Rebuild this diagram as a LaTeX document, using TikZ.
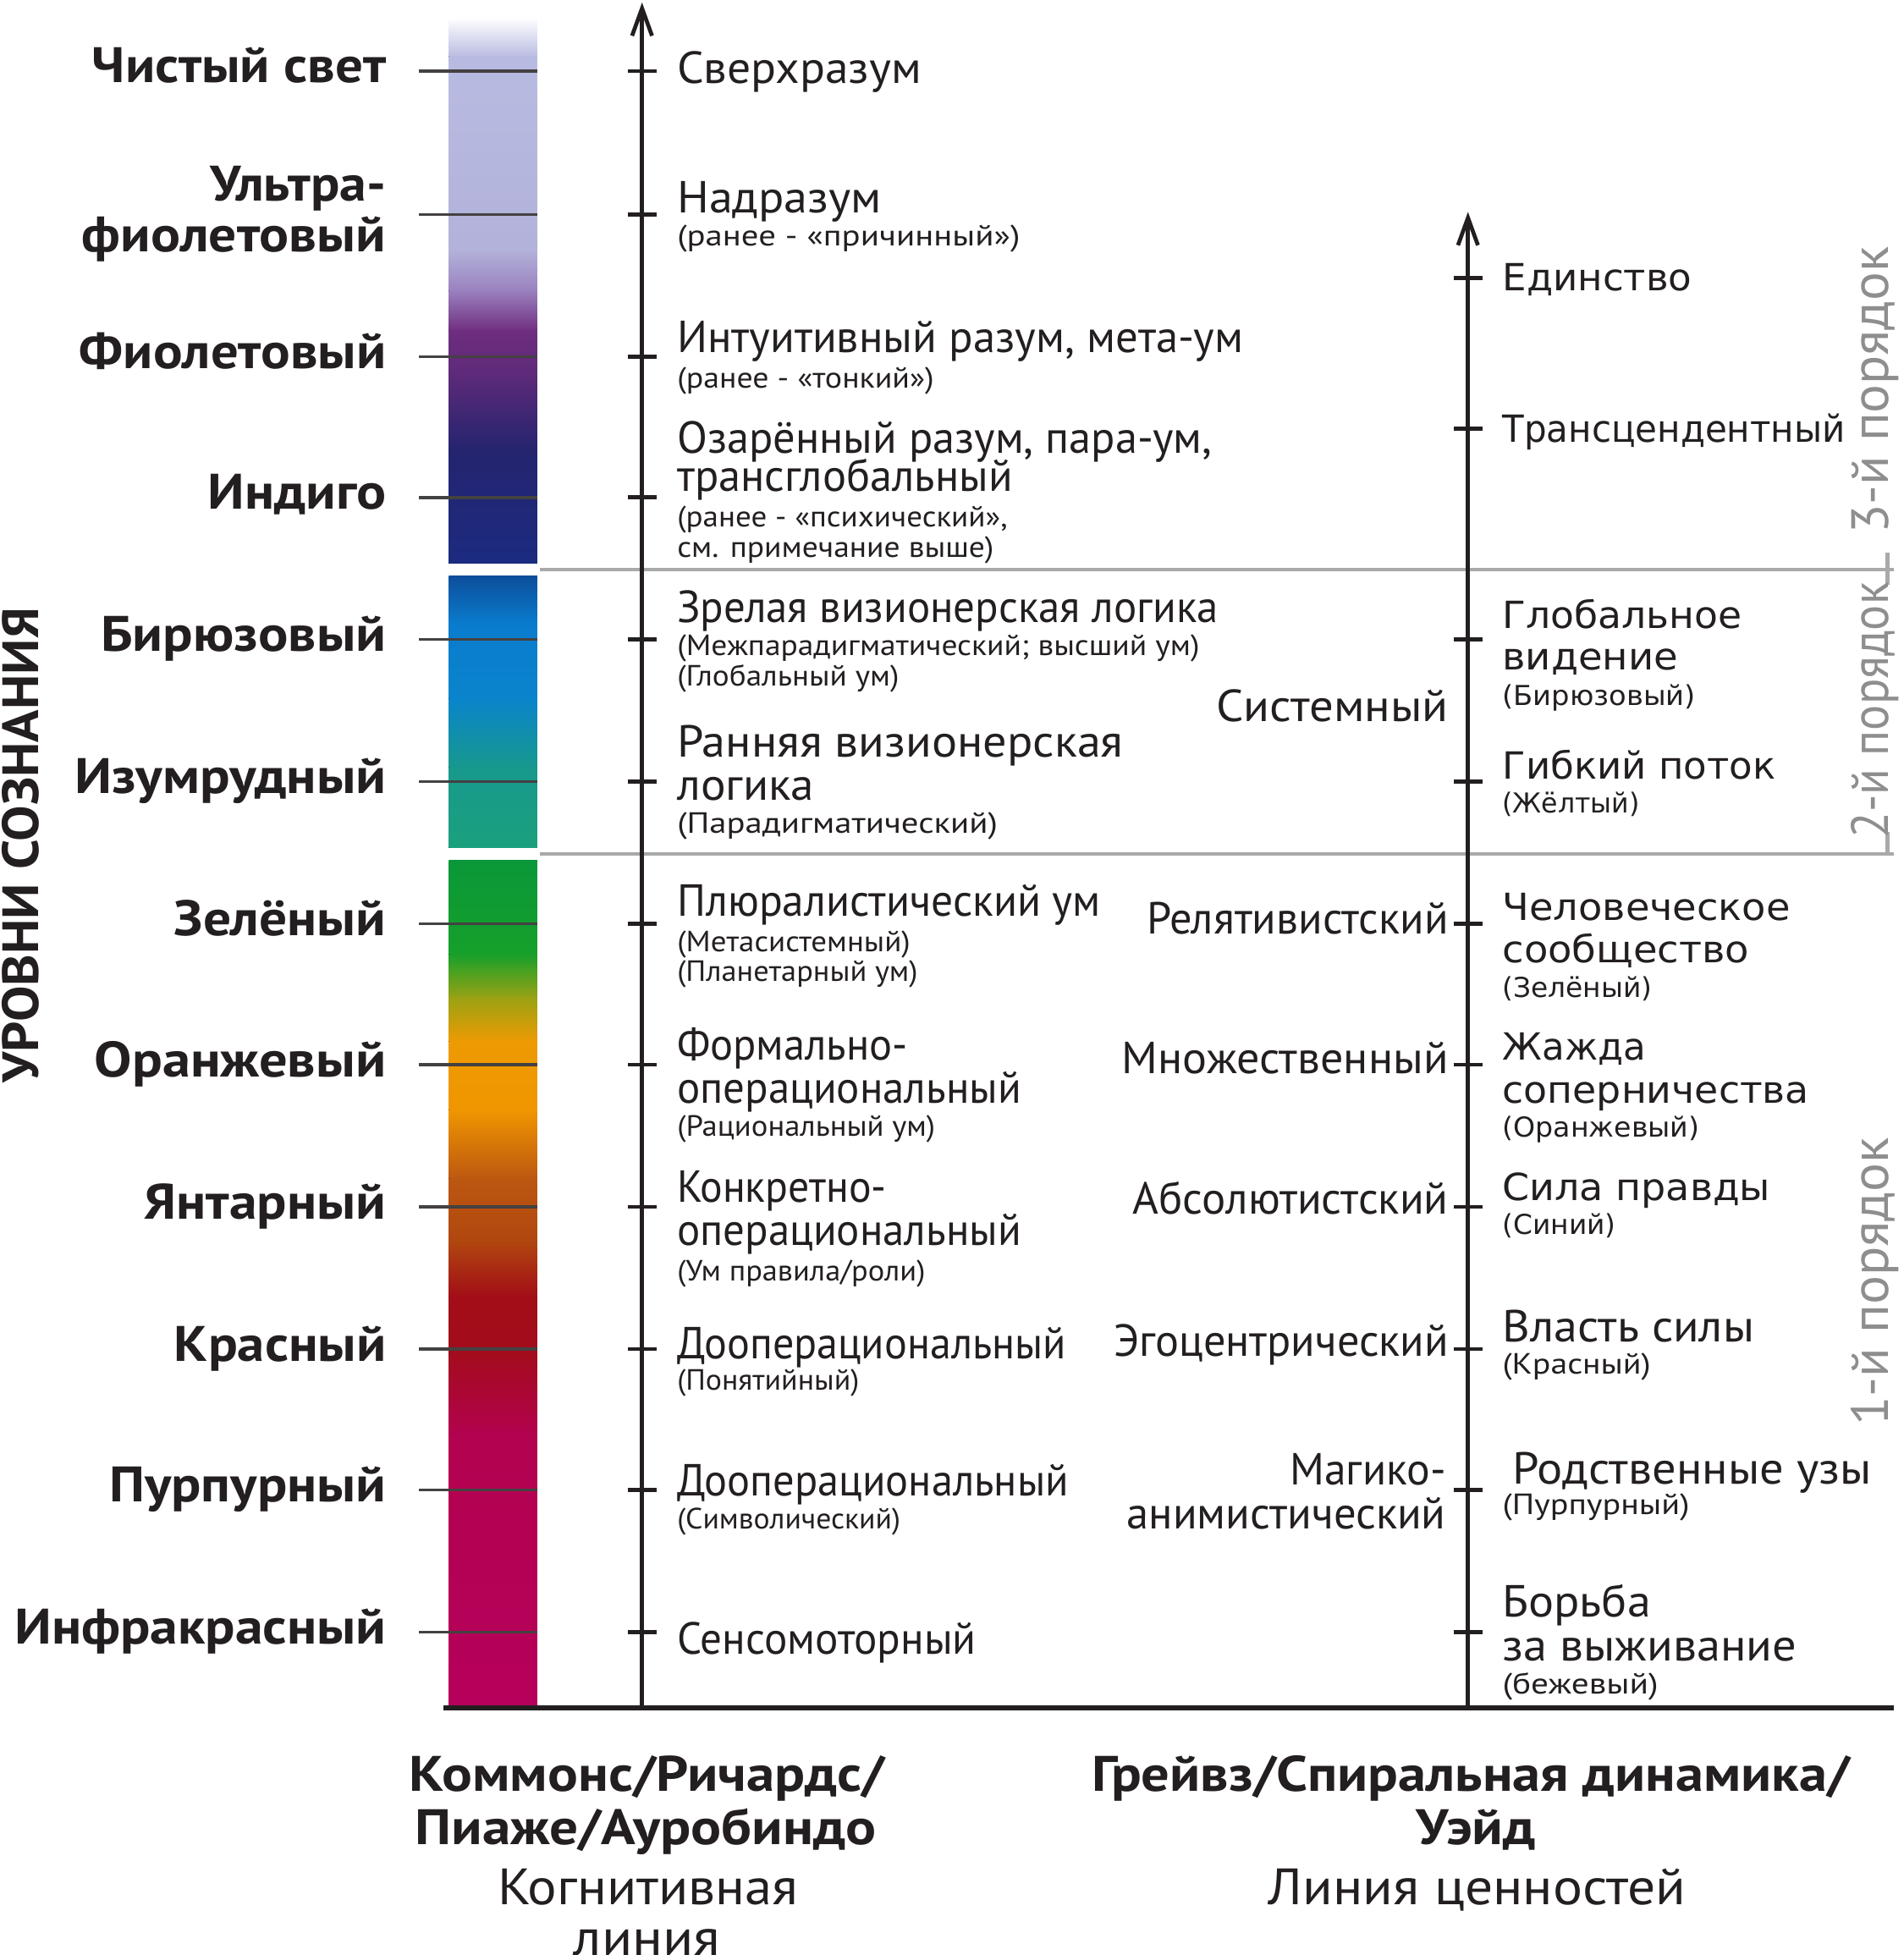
\documentclass[tikz,border=0pt]{standalone}
\usepackage{fontspec}
\usepackage{graphicx}
\usetikzlibrary{arrows.meta}
\newfontfamily\pts{PT Sans}
\newfontfamily\djv{DejaVu Sans}
\definecolor{ink}{HTML}{231F20}
\definecolor{sepgray}{HTML}{A9A9A9}
\definecolor{ordgray}{HTML}{8E8E8E}
\definecolor{cLav}{HTML}{B8BBE1}
\definecolor{cLavB}{HTML}{B2B2DA}
\definecolor{cMauve}{HTML}{9A80BE}
\definecolor{cPurp}{HTML}{6F2D7F}
\definecolor{cPurpB}{HTML}{5D2A79}
\definecolor{cIndA}{HTML}{25246F}
\definecolor{cIndB}{HTML}{1B2B80}
\definecolor{cBluA}{HTML}{0C4E9B}
\definecolor{cBluB}{HTML}{0A7CCE}
\definecolor{cBluC}{HTML}{0A84CC}
\definecolor{cTealA}{HTML}{17998D}
\definecolor{cTealB}{HTML}{1BA07D}
\definecolor{cGrA}{HTML}{0A9739}
\definecolor{cGrB}{HTML}{16A02A}
\definecolor{cOl}{HTML}{9AA214}
\definecolor{cOrA}{HTML}{EE9A02}
\definecolor{cOrB}{HTML}{F09600}
\definecolor{cBrA}{HTML}{BC5711}
\definecolor{cBrB}{HTML}{B1470F}
\definecolor{cRdA}{HTML}{A20D17}
\definecolor{cRdB}{HTML}{A30C1C}
\definecolor{cMgA}{HTML}{B3024F}
\definecolor{cMgB}{HTML}{B6005B}
\newcommand{\fw}[2]{\resizebox{#1pt}{\height}{#2}}
\begin{document}
\begin{tikzpicture}[x=1pt,y=-1pt,
  lab/.style={anchor=base east, inner sep=0pt, text=ink, font=\pts\bfseries\fontsize{40}{44}\selectfont},
  mid/.style={anchor=base west, inner sep=0pt, text=ink, font=\pts\fontsize{36}{40}\selectfont},
  mids/.style={anchor=base west, inner sep=0pt, text=ink, font=\pts\fontsize{23.5}{27}\selectfont},
  val/.style={anchor=base east, inner sep=0pt, text=ink, font=\pts\fontsize{36}{40}\selectfont},
  wide/.style={anchor=base west, inner sep=0pt, text=ink, font=\djv\fontsize{30}{34}\selectfont},
  wides/.style={anchor=base west, inner sep=0pt, text=ink, font=\djv\fontsize{22}{26}\selectfont},
  ord/.style={anchor=base, rotate=90, inner sep=0pt, text=ordgray, font=\pts\fontsize{42}{46}\selectfont},
  botb/.style={anchor=base, inner sep=0pt, text=ink, font=\pts\bfseries\fontsize{40}{44}\selectfont},
  botr/.style={anchor=base, inner sep=0pt, text=ink, font=\pts\fontsize{41}{45}\selectfont},
  axisline/.style={line width=3.2pt, draw=ink, -{Straight Barb[length=22pt,width=16pt]}},
  tickline/.style={line width=3.2pt, draw=ink},
  bartick/.style={line width=2.3pt, draw=ink!85},
  sepline/.style={line width=3pt, draw=sepgray}]
\useasboundingbox (0,0) rectangle (1527,1568);
\fill[white] (0,0) rectangle (1527,1568);

% colour bar
\foreach \ya/\yb/\ca/\cb in {14/46/white/cLav, 45/201/cLav/cLavB, 200/234/cLavB/cMauve,
  233/266/cMauve/cPurp, 265/301/cPurp/cPurpB, 300/361/cPurpB/cIndA, 360/452/cIndA/cIndB,
  462/501/cBluA/cBluB, 500/561/cBluB/cBluC, 560/616/cBluC/cTealA, 615/680/cTealA/cTealB,
  690/766/cGrA/cGrB, 765/801/cGrB/cOl, 800/836/cOl/cOrA, 835/891/cOrA/cOrB,
  890/946/cOrB/cBrA, 945/996/cBrA/cBrB, 995/1041/cBrB/cRdA, 1040/1086/cRdA/cRdB,
  1085/1151/cRdB/cMgA, 1150/1370/cMgA/cMgB}
  {\fill[top color=\ca, bottom color=\cb, draw=none] (360,\ya) rectangle (431,\yb);}

% separators between orders
\coordinate (s1a) at (433,457); \coordinate (s1b) at (1519,457);
\coordinate (s2a) at (433,685); \coordinate (s2b) at (1519,685);
\draw[sepline] (s1a) -- (s1b);
\draw[sepline] (s2a) -- (s2b);
\coordinate (v1a) at (1514,443); \coordinate (v1b) at (1514,469);
\coordinate (v2a) at (1514,667); \coordinate (v2b) at (1514,686);
\draw[sepline] (v1a) -- (v1b);
\draw[sepline] (v2a) -- (v2b);

% level ticks on the bar
\foreach \y in {57,172,286,399,513,627,741,854,968,1082,1195,1309}
  {\draw[bartick] (336,\y) -- (431,\y);}

% axes
\coordinate (base0) at (356,1370); \coordinate (base1) at (1519,1370);
\draw[line width=4pt, draw=ink] (base0) -- (base1);
\coordinate (a1bot) at (515,1370); \coordinate (a1top) at (515,2);
\coordinate (a2bot) at (1177.5,1370); \coordinate (a2top) at (1177.5,170);
\draw[axisline] (a1bot) -- (a1top);
\draw[axisline] (a2bot) -- (a2top);
\foreach \y in {57,172,286,399,513,627,741,854,968,1082,1195,1309}
  {\draw[tickline] (503.5,\y) -- (526.5,\y);}
\foreach \y in {223,344,513,627,741,854,968,1082,1195,1309}
  {\draw[tickline] (1166,\y) -- (1189,\y);}

% left labels
\node[lab] (L1) at (310,66.5) {\fw{236}{Чистый свет}};
\node[lab] (L2a) at (310,161) {\fw{141}{Ультра-}};
\node[lab] (L2b) at (310,202) {\fw{244}{фиолетовый}};
\node[lab] (L3) at (310,295.5) {\fw{246}{Фиолетовый}};
\node[lab] (L4) at (310,408.5) {\fw{143}{Индиго}};
\node[lab] (L5) at (310,522.5) {\fw{229}{Бирюзовый}};
\node[lab] (L6) at (310,636.5) {\fw{250}{Изумрудный}};
\node[lab] (L7) at (310,750.5) {\fw{170}{Зелёный}};
\node[lab] (L8) at (310,863.5) {\fw{234}{Оранжевый}};
\node[lab] (L9) at (310,977.5) {\fw{194}{Янтарный}};
\node[lab] (L10) at (310,1091.5) {\fw{170}{Красный}};
\node[lab] (L11) at (310,1204.5) {\fw{222}{Пурпурный}};
\node[lab] (L12) at (310,1318.5) {\fw{298}{Инфракрасный}};
\node[anchor=base, rotate=90, inner sep=0pt, text=ink, font=\pts\bfseries\fontsize{41}{45}\selectfont]
  (V) at (31,678) {\fw{381}{УРОВНИ СОЗНАНИЯ}};

% cognitive line
\node[mid] (M1) at (543,67) {\fw{196}{Сверхразум}};
\node[mid] (M2) at (543,171) {\fw{164}{Надразум}};
\node[mids] (M2s) at (543,197) {\fw{275}{(ранее - «причинный»)}};
\node[mid] (M3) at (543,283) {\fw{454}{Интуитивный разум, мета-ум}};
\node[mids] (M3s) at (543,311) {\fw{206}{(ранее - «тонкий»)}};
\node[mid, text depth=0pt] (M4a) at (543,363.5) {\fw{429}{Озарённый разум, пара-ум,}};
\node[mid, text height=20pt] (M4b) at (543,394) {\fw{269}{трансглобальный}};
\node[mids] (M4s) at (543,422.5) {\fw{265}{(ранее - «психический»,}};
\node[mids] (M4t) at (543,447) {\fw{254}{см. примечание выше)}};
\node[mid] (M5) at (543,499.5) {\fw{434}{Зрелая визионерская логика}};
\node[mids] (M5s) at (543,526) {\fw{419}{(Межпарадигматический; высший ум)}};
\node[mids] (M5t) at (543,550) {\fw{178}{(Глобальный ум)}};
\node[mid] (M6a) at (543,607.5) {\fw{358}{Ранняя визионерская}};
\node[mid] (M6b) at (543,641.5) {\fw{110}{логика}};
\node[mids] (M6s) at (543,668.5) {\fw{257}{(Парадигматический)}};
\node[mid] (M7) at (543,735) {\fw{340}{Плюралистический ум}};
\node[mids] (M7s) at (543,763) {\fw{187}{(Метасистемный)}};
\node[mids] (M7t) at (543,787) {\fw{193}{(Планетарный ум)}};
\node[mid] (M8a) at (543,850) {\fw{185}{Формально-}};
\node[mid] (M8b) at (543,885) {\fw{276}{операциональный}};
\node[mids] (M8s) at (543,911) {\fw{207}{(Рациональный ум)}};
\node[mid] (M9a) at (543,964) {\fw{168}{Конкретно-}};
\node[mid] (M9b) at (543,999) {\fw{276}{операциональный}};
\node[mids] (M9s) at (543,1027) {\fw{199}{(Ум правила/роли)}};
\node[mid] (M10) at (543,1090) {\fw{312}{Дооперациональный}};
\node[mids] (M10s) at (543,1115) {\fw{146}{(Понятийный)}};
\node[mid] (M11) at (543,1200) {\fw{314}{Дооперациональный}};
\node[mids] (M11s) at (543,1226) {\fw{179}{(Символический)}};
\node[mid] (M12) at (543,1327) {\fw{240}{Сенсомоторный}};

% value stages (middle right)
\node[val] (S1) at (1162,579) {\fw{186}{Системный}};
\node[val] (S2) at (1162,749) {\fw{242}{Релятивистский}};
\node[val] (S3) at (1162,861) {\fw{262}{Множественный}};
\node[val] (S4) at (1162,974) {\fw{253}{Абсолютистский}};
\node[val] (S5) at (1162,1088) {\fw{268}{Эгоцентрический}};
\node[val] (S6a) at (1160,1191) {\fw{125}{Магико-}};
\node[val] (S6b) at (1160,1226) {\fw{256}{анимистический}};

% spiral dynamics column
\node[wide] (R1) at (1205,233) {\fw{152}{Единство}};
\node[wide] (R2) at (1205,355) {\fw{275}{Трансцендентный}};
\node[wide] (R3a) at (1205,504) {\fw{192}{Глобальное}};
\node[wide] (R3b) at (1205,537.5) {\fw{141}{видение}};
\node[wides] (R3s) at (1205,566) {\fw{155}{(Бирюзовый)}};
\node[wide] (R4) at (1205,624.5) {\fw{219}{Гибкий поток}};
\node[wides] (R4s) at (1205,652) {\fw{110}{(Жёлтый)}};
\node[wide] (R5a) at (1205,738) {\fw{231}{Человеческое}};
\node[wide] (R5b) at (1205,772) {\fw{198}{сообщество}};
\node[wides] (R5s) at (1205,800) {\fw{120}{(Зелёный)}};
\node[wide] (R6a) at (1205,850) {\fw{115}{Жажда}};
\node[wide] (R6b) at (1205,884.5) {\fw{246}{соперничества}};
\node[wides] (R6s) at (1205,912) {\fw{158}{(Оранжевый)}};
\node[wide] (R7) at (1205,963) {\fw{215}{Сила правды}};
\node[wides] (R7s) at (1205,990) {\fw{91}{(Синий)}};
\node[mid] (R8) at (1205,1076) {\fw{202}{Власть силы}};
\node[mids] (R8s) at (1205,1102) {\fw{119}{(Красный)}};
\node[mid] (R9) at (1213,1190) {\fw{288}{Родственные узы}};
\node[mids] (R9s) at (1205,1215) {\fw{150}{(Пурпурный)}};
\node[mid] (R10a) at (1205,1297) {\fw{119}{Борьба}};
\node[mid] (R10b) at (1205,1332) {\fw{236}{за выживание}};
\node[mids] (R10s) at (1205,1358.5) {\fw{125}{(бежевый)}};

% orders
\node[ord] (O3) at (1515,313) {\fw{230}{3-й порядок}};
\node[ord] (O2) at (1515,569.5) {\fw{205}{2-й порядок}};
\node[ord] (O1) at (1515,1028) {\fw{231}{1-й порядок}};

% bottom captions
\node[botb] (B1) at (519,1436.5) {\fw{382}{Коммонс/Ричардс/}};
\node[botb] (B2) at (518,1479.5) {\fw{370}{Пиаже/Ауробиндо}};
\node[botr] (B3) at (520,1527.5) {\fw{241}{Когнитивная}};
\node[botr] (B4) at (519,1568) {\fw{118}{линия}};
\node[botb] (B5) at (1180,1436.5) {\fw{608}{Грейвз/Спиральная динамика/}};
\node[botb] (B6) at (1184,1479.5) {\fw{96}{Уэйд}};
\node[botr] (B7) at (1185,1527.5) {\fw{335}{Линия ценностей}};
\end{tikzpicture}
\end{document}
